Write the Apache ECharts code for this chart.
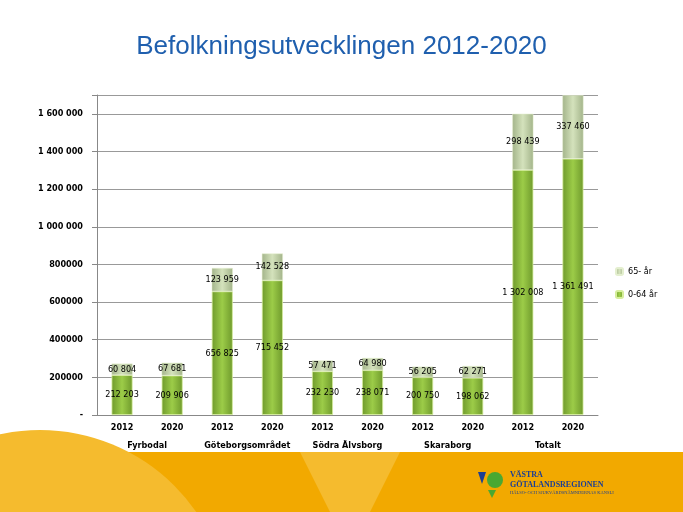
<!DOCTYPE html>
<html><head><meta charset="utf-8">
<script src="https://cdn.jsdelivr.net/npm/echarts@6/dist/echarts.min.js"></script>
<style>html,body{margin:0;padding:0;background:#fff}#c{width:683px;height:512px}</style>
</head><body><div id="c"></div>
<script>
var years = ['2012','2020','2012','2020','2012','2020','2012','2020','2012','2020'];
var groups = ['Fyrbodal','Göteborgsområdet','Södra Älvsborg','Skaraborg','Totalt'];
var young = [212203, 209906, 656825, 715452, 232230, 238071, 200750, 198062, 1302008, 1361491];
var old = [60804, 67681, 123959, 142528, 57471, 64980, 56205, 62271, 298439, 337460];
var yTicks = ['-','200000','400000','600000','800000','1 000 000','1 200 000','1 400 000','1 600 000'];

function fmt(v){ return String(v).replace(/\B(?=(\d{3})+(?!\d))/g,' '); }

var chart = echarts.init(document.getElementById('c'));
var lblFont = {fontFamily:'DejaVu Sans Condensed', fontSize:9, color:'#000'};
chart.setOption({
  animation:false,
  textStyle:{fontFamily:'DejaVu Sans Condensed'},
  graphic:[
    {type:'rect', shape:{x:0,y:452,width:683,height:60}, style:{fill:'#f2a900'}, z:-1},
    {type:'circle', shape:{cx:40,cy:620,r:190}, style:{fill:'#f5bb2e'}, z:-1},
    {type:'polygon', shape:{points:[[300,452],[400,452],[370,512],[330,512]]}, style:{fill:'#f5bb2e'}, z:-1},
    {type:'polygon', shape:{points:[[478,472],[486,472],[482,484]]}, style:{fill:'#1c3f94'}},
    {type:'circle', shape:{cx:495,cy:480,r:8}, style:{fill:'#4aa832'}},
    {type:'polygon', shape:{points:[[488,490],[496,490],[492,498]]}, style:{fill:'#4aa832'}},
    {type:'text', left:510, top:470, style:{text:'VÄSTRA\nGÖTALANDSREGIONEN', font:'bold 8px Liberation Serif', fill:'#1c3f94', lineHeight:10}},
    {type:'text', left:510, top:490, style:{text:'HÄLSO- OCH SJUKVÅRDSNÄMNDERNAS KANSLI', font:'4.5px Liberation Serif', fill:'#1c3f94'}}
  ],
  title:{text:'Befolkningsutvecklingen 2012-2020', left:'center', top:29,
    textStyle:{fontFamily:'Liberation Sans', fontSize:26, fontWeight:'normal', color:'#1f5fae'}},
  legend:{orient:'vertical', left:610, top:262, itemWidth:7, itemHeight:7, itemGap:14,
    data:['65- år','0-64 år'], textStyle:{fontSize:9, color:'#000'}},
  grid:{left:97, right:85, top:95, bottom:97},
  xAxis:[
    {type:'category', data:years, position:'bottom',
     axisLine:{lineStyle:{color:'#888'}}, axisTick:{length:22, lineStyle:{color:'#888'}},
     axisLabel:{fontSize:9, fontWeight:'bold', color:'#000', margin:8}},
    {type:'category', data:groups, position:'bottom', offset:22,
     axisLine:{show:false}, axisTick:{length:15, lineStyle:{color:'#888'}},
     axisLabel:{interval:0, fontSize:9, fontWeight:'bold', color:'#000', margin:4}}
  ],
  yAxis:{type:'value', min:0, max:1700000, interval:200000,
    axisLine:{show:true, lineStyle:{color:'#888'}}, axisTick:{show:true, lineStyle:{color:'#888'}},
    splitLine:{lineStyle:{color:'#999'}},
    axisLabel:{fontSize:9, fontWeight:'bold', color:'#000', margin:14,
      formatter:function(v){ var i=v/200000; return yTicks[i]!==undefined ? yTicks[i] : ''; }}},
  series:[
    {name:'0-64 år', type:'bar', stack:'a', barWidth:21, data:young,
     itemStyle:{borderColor:'#d6ee9c', borderWidth:0.8, color:new echarts.graphic.LinearGradient(0,0,1,0,[
       {offset:0,color:'#6f9a2c'},{offset:0.5,color:'#9ccc48'},{offset:1,color:'#6f9a2c'}])},
     label:{show:true, position:'inside', formatter:function(p){return fmt(p.value);}, ...lblFont}},
    {name:'65- år', type:'bar', stack:'a', barWidth:21, data:old,
     itemStyle:{borderColor:'#e4efcf', borderWidth:0.5, color:new echarts.graphic.LinearGradient(0,0,1,0,[
       {offset:0,color:'#a3b48a'},{offset:0.5,color:'#d4e2bc'},{offset:1,color:'#a3b48a'}])},
     label:{show:true, position:'inside', formatter:function(p){return fmt(p.value);}, ...lblFont}}
  ]
});
</script></body></html>
